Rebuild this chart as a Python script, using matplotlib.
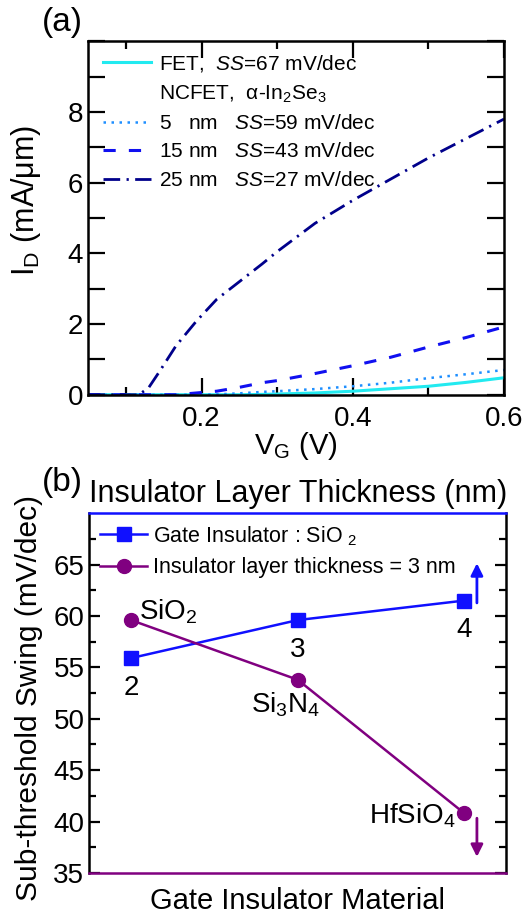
import matplotlib
matplotlib.use('Agg')
import matplotlib.pyplot as plt
from matplotlib.lines import Line2D

plt.rcParams['font.family'] = ['Liberation Sans', 'DejaVu Sans']
plt.rcParams['mathtext.fontset'] = 'custom'
plt.rcParams['mathtext.rm'] = 'Liberation Sans'
plt.rcParams['mathtext.it'] = 'Liberation Sans:italic'
plt.rcParams['mathtext.default'] = 'regular'

# panel (a): transfer curves
vg = [0.05, 0.10, 0.117, 0.13, 0.145, 0.166, 0.193, 0.22, 0.25, 0.28, 0.30, 0.35, 0.40, 0.45, 0.50, 0.55, 0.60]
i_fet = [0, 0, 0, 0, 0, 0, 0, 0, 0.0, 0.01, 0.02, 0.05, 0.10, 0.17, 0.24, 0.35, 0.48]
i_5nm = [0, 0, 0, 0, 0, 0, 0, 0.01, 0.04, 0.08, 0.10, 0.16, 0.24, 0.34, 0.47, 0.58, 0.70]
i_15nm = [0, 0, 0, 0, 0, 0, 0.05, 0.10, 0.21, 0.34, 0.40, 0.60, 0.82, 1.06, 1.35, 1.62, 1.92]
i_25nm = [0, 0, 0, 0.2, 0.68, 1.38, 2.08, 2.7, 3.2, 3.7, 4.05, 4.85, 5.5, 6.1, 6.7, 7.25, 7.8]

# panel (b): subthreshold swing
x_pos = [0, 1, 2]
thick_labels = ['2', '3', '4']
ss_thick = [55.9, 59.6, 61.5]
mat_labels = ['SiO$_2$', 'Si$_3$N$_4$', 'HfSiO$_4$']
ss_mat = [59.6, 53.8, 40.8]

blue = '#1010ff'
purple = '#800080'
c_fet, c_5, c_15, c_25 = '#22eaf0', '#1e8fff', '#1010f0', '#00008b'
ls_5, ls_15, ls_25 = (0, (1, 2.2)), (0, (4, 4.3)), (0, (6, 2.3, 0.8, 2.3))

fig = plt.figure(figsize=(5.25, 9.18), dpi=100)

ax1 = fig.add_axes([0.168, 0.570, 0.792, 0.385])
ax1.plot(vg, i_fet, color=c_fet, lw=2.2)
ax1.plot(vg, i_5nm, color=c_5, lw=1.8, ls=ls_5)
ax1.plot(vg, i_15nm, color=c_15, lw=2.2, ls=ls_15)
ax1.plot(vg, i_25nm, color=c_25, lw=2, ls=ls_25)
ax1.set_xlim(0.05, 0.6)
ax1.set_ylim(0, 10)
ax1.set_xticks([0.2, 0.4, 0.6])
ax1.set_xticks([0.1, 0.3, 0.5], minor=True)
ax1.set_yticks(range(0, 11))
ax1.set_yticklabels(['0', '', '2', '', '4', '', '6', '', '8', '', ''])
ax1.tick_params(which='both', direction='in', top=True, right=True, width=1.6, labelsize=20)
ax1.tick_params(axis='y', which='major', length=12)
ax1.tick_params(axis='x', which='major', length=12, pad=8)
ax1.tick_params(axis='x', which='minor', length=6)
for s in ax1.spines.values():
    s.set_linewidth(1.8)
ax1.set_xlabel('V$_G$ (V)', fontsize=21, labelpad=-1)
ax1.set_ylabel('I$_D$ (mA/\u03bcm)', fontsize=22)
ax1.yaxis.set_label_coords(-0.108, 0.55)
handles = [
    Line2D([], [], color=c_fet, lw=2.2),
    Line2D([], [], color='none'),
    Line2D([], [], color=c_5, lw=1.8, ls=ls_5),
    Line2D([], [], color=c_15, lw=2.2, ls=ls_15),
    Line2D([], [], color=c_25, lw=2, ls=ls_25),
]
labels = [
    'FET,  $\\it{SS}$=67 mV/dec',
    'NCFET,  \u03b1-In$_2$Se$_3$',
    '5   nm   $\\it{SS}$=59 mV/dec',
    '15 nm   $\\it{SS}$=43 mV/dec',
    '25 nm   $\\it{SS}$=27 mV/dec',
]
ax1.legend(handles, labels, loc='upper left', frameon=False, fontsize=15,
           handlelength=2.3, handletextpad=0.4, labelspacing=0.45,
           borderaxespad=0.3, bbox_to_anchor=(0.0, 1.008))
fig.text(0.118, 0.976, '(a)', fontsize=24, ha='center', va='center')

ax2 = fig.add_axes([0.170, 0.049, 0.794, 0.392])
ax2.plot(x_pos, ss_thick, color=blue, lw=1.8, marker='s', ms=10,
         label='Gate Insulator : SiO $_2$')
ax2.plot(x_pos, ss_mat, color=purple, lw=1.8, marker='o', ms=10,
         label='Insulator layer thickness = 3 nm')
ax2.set_xlim(-0.25, 2.25)
ax2.set_ylim(35, 70)
ax2.set_yticks([35, 40, 45, 50, 55, 60, 65])
ax2.set_yticks([37.5, 42.5, 47.5, 52.5, 57.5, 62.5, 67.5], minor=True)
ax2.set_xticks([])
ax2.tick_params(axis='y', which='both', direction='in', left=True, right=True, width=1.6, labelsize=20)
ax2.tick_params(axis='y', which='major', length=8)
ax2.tick_params(axis='y', which='minor', length=5)
for s in ax2.spines.values():
    s.set_linewidth(1.8)
ax2.spines['top'].set_color(blue)
ax2.spines['bottom'].set_color(purple)
ax2.set_ylabel('Sub-threshold Swing (mV/dec)', fontsize=21.5)
ax2.yaxis.set_label_coords(-0.112, 0.486)
ax2.set_xlabel('Gate Insulator Material', fontsize=21, labelpad=10)
ax2.set_title('Insulator Layer Thickness (nm)', fontsize=22, pad=8)
ax2.legend(loc='upper left', frameon=False, fontsize=15.5, handlelength=2.2,
           handletextpad=0.25, labelspacing=0.45, borderaxespad=0.1)

for x, y, t in zip(x_pos, ss_thick, thick_labels):
    ax2.annotate(t, (x, y), xytext=(0, -12), textcoords='offset points',
                 ha='center', va='top', fontsize=20)
ax2.annotate(mat_labels[0], (x_pos[0], ss_mat[0]), xytext=(6, 6), textcoords='offset points',
             ha='left', va='center', fontsize=20)
ax2.annotate(mat_labels[1], (x_pos[1], ss_mat[1]), xytext=(-9, -8), textcoords='offset points',
             ha='center', va='top', fontsize=20)
ax2.annotate(mat_labels[2], (x_pos[2], ss_mat[2]), xytext=(-6, -2), textcoords='offset points',
             ha='right', va='center', fontsize=20)

ax2.annotate('', xy=(2.075, 65.4), xytext=(2.075, 61.0),
             arrowprops=dict(arrowstyle='-|>', color=blue, lw=2, mutation_scale=18))
ax2.annotate('', xy=(2.075, 36.3), xytext=(2.075, 40.6),
             arrowprops=dict(arrowstyle='-|>', color=purple, lw=2, mutation_scale=18))
fig.text(0.118, 0.474, '(b)', fontsize=24, ha='center', va='center')

fig.savefig('out.png', dpi=100)
